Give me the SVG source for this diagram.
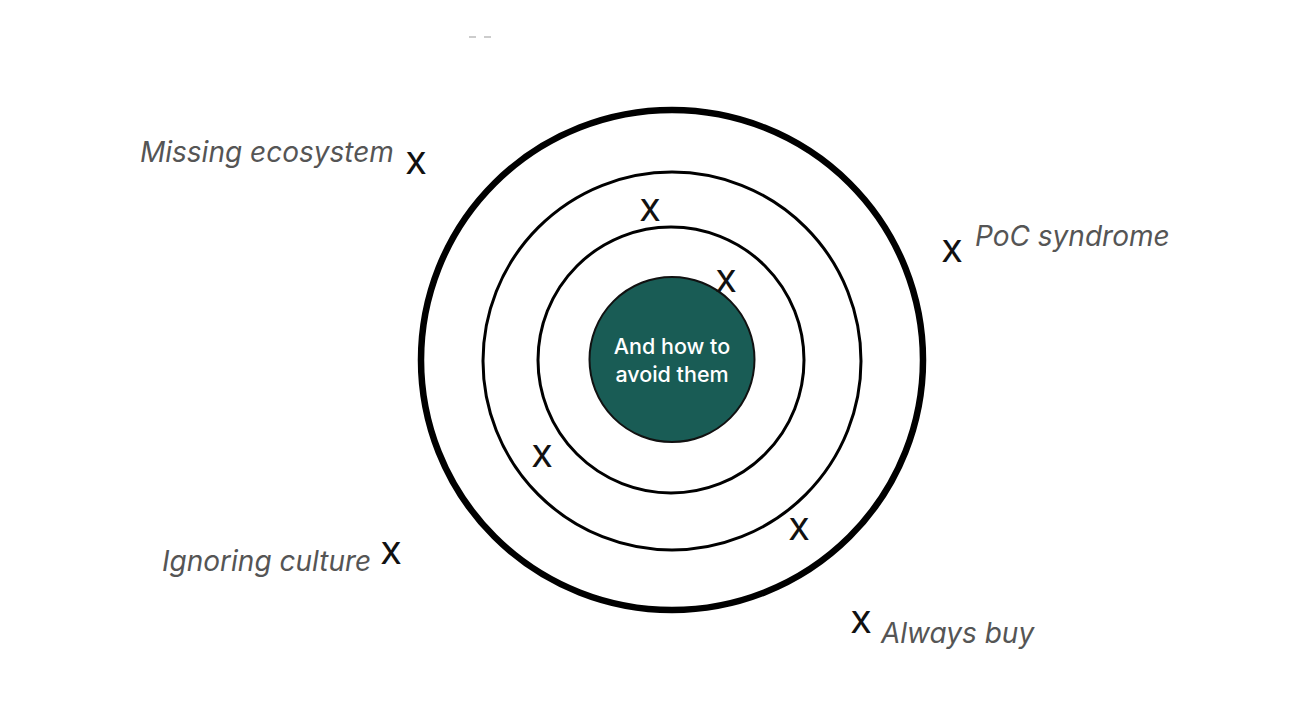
<svg xmlns="http://www.w3.org/2000/svg" width="1292" height="702" viewBox="0 0 1292 702">
<style>
.ring{fill:none;stroke:#000}
.lbl{font-family:Inter,"Liberation Sans",sans-serif;font-style:italic;font-size:28px;fill:#555}
.mk{font-family:Inter,"Liberation Sans",sans-serif;font-size:30px;font-weight:500;fill:#111;text-anchor:middle}
.ctr{font-family:Inter,"Liberation Sans",sans-serif;font-size:21.5px;font-weight:500;fill:#fff;text-anchor:middle}
</style>
<rect width="1292" height="702" fill="#fff"/>
<rect x="469" y="36" width="7" height="2" fill="#ccc"/>
<rect x="484" y="36" width="7" height="2" fill="#ccc"/>
<g id="target">
<ellipse class="ring" cx="672" cy="360" rx="251" ry="250" stroke-width="6.5"/>
<circle class="ring" cx="672" cy="361" r="189" stroke-width="3"/>
<circle class="ring" cx="671" cy="360" r="133" stroke-width="3"/>
</g>
<g id="center">
<circle cx="672" cy="359.5" r="82.5" fill="#195c55" stroke="#111" stroke-width="2"/>
<text class="ctr" x="672" y="354">And how to</text>
<text class="ctr" x="672" y="382">avoid them</text>
</g>
<g id="labels">
<text class="lbl" x="140" y="162">Missing ecosystem</text>
<text class="lbl" x="975" y="246">PoC syndrome</text>
<text class="lbl" x="162" y="571">Ignoring culture</text>
<text class="lbl" x="881" y="643">Always buy</text>
</g>
<g id="marks">
<text class="mk" x="416" y="174">X</text>
<text class="mk" x="650" y="221">X</text>
<text class="mk" x="726" y="292">X</text>
<text class="mk" x="952" y="262">X</text>
<text class="mk" x="542" y="467">X</text>
<text class="mk" x="391" y="564">X</text>
<text class="mk" x="799" y="540">X</text>
<text class="mk" x="861" y="633">X</text>
</g>
</svg>
